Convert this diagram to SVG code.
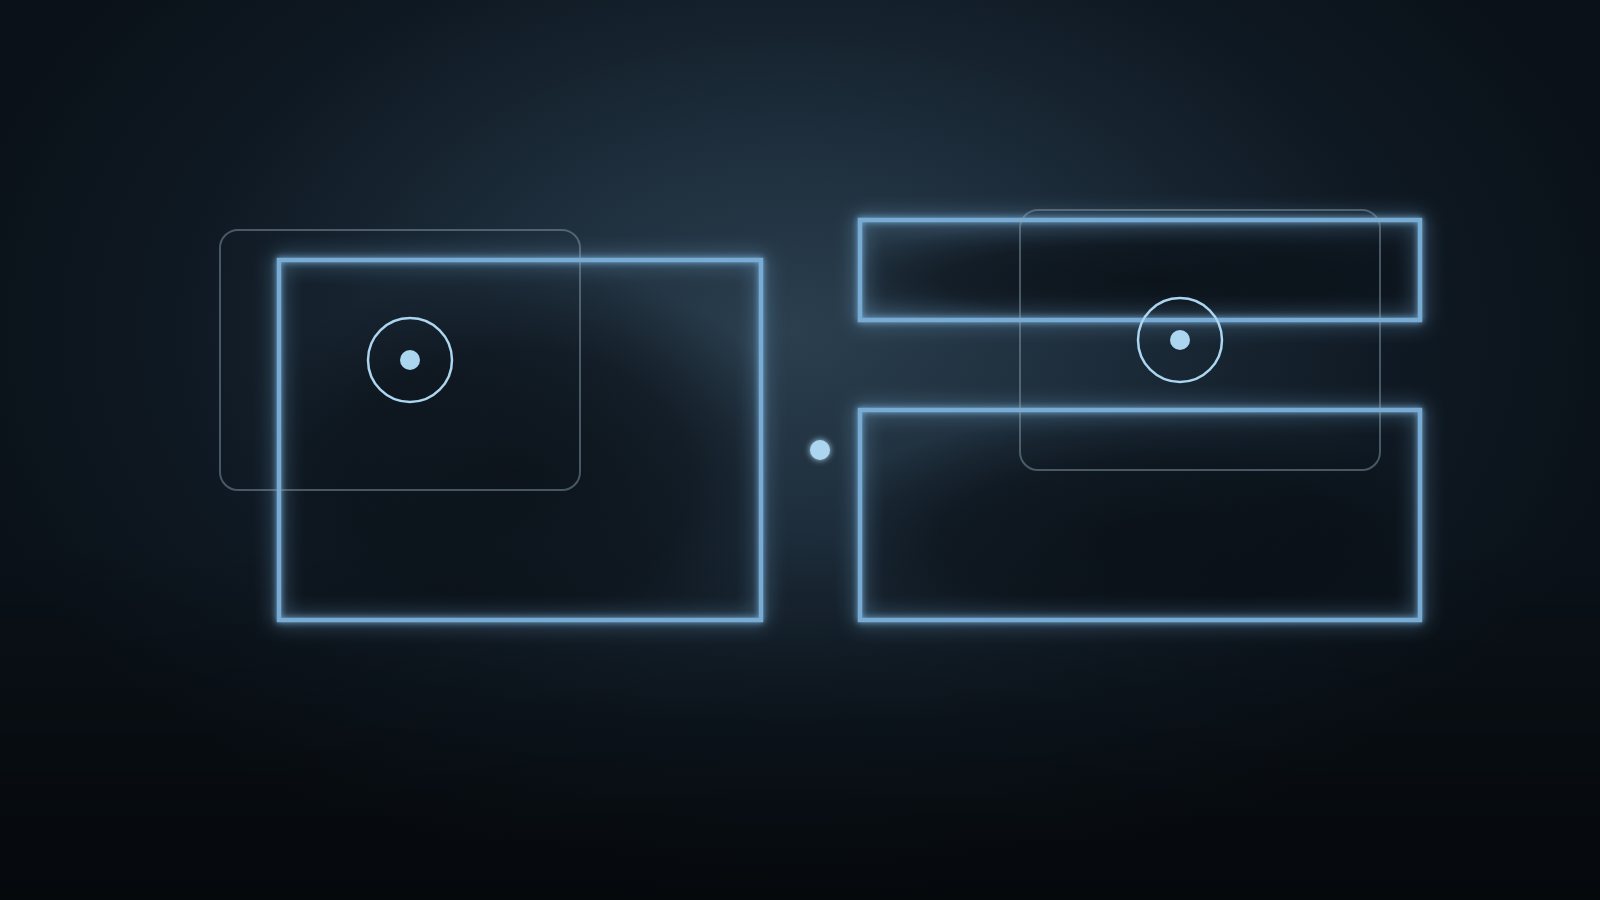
<svg xmlns="http://www.w3.org/2000/svg" width="1600" height="900" viewBox="0 0 1600 900">
<defs>
<radialGradient id="bg" cx="790" cy="330" r="860" gradientUnits="userSpaceOnUse" gradientTransform="translate(790 330) scale(1 0.66) translate(-790 -330)">
<stop offset="0" stop-color="#2b3f4f"/>
<stop offset="0.35" stop-color="#1d2d3b"/>
<stop offset="0.7" stop-color="#0f1923"/>
<stop offset="1" stop-color="#0a1118"/>
</radialGradient>
<linearGradient id="bottom" x1="0" y1="0" x2="0" y2="1">
<stop offset="0.6" stop-color="#000" stop-opacity="0"/>
<stop offset="1" stop-color="#000" stop-opacity="0.5"/>
</linearGradient>
<radialGradient id="shadeGrad" cx="0.5" cy="0.6" r="0.6">
<stop offset="0" stop-color="#070c12" stop-opacity="0.75"/>
<stop offset="0.6" stop-color="#070c12" stop-opacity="0.55"/>
<stop offset="1" stop-color="#070c12" stop-opacity="0"/>
</radialGradient>
<filter id="glow" x="-20%" y="-30%" width="140%" height="160%">
<feGaussianBlur in="SourceGraphic" stdDeviation="10" result="b1"/>
<feGaussianBlur in="SourceGraphic" stdDeviation="3" result="b2"/>
<feMerge><feMergeNode in="b1"/><feMergeNode in="b2"/><feMergeNode in="SourceGraphic"/></feMerge>
</filter>
<filter id="dotglow" x="-100%" y="-100%" width="300%" height="300%">
<feGaussianBlur in="SourceGraphic" stdDeviation="3" result="b"/>
<feMerge><feMergeNode in="b"/><feMergeNode in="SourceGraphic"/></feMerge>
</filter>
</defs>
<style>
.frame{fill:none;stroke:#78acd4;stroke-width:4.5}
.shade{fill:url(#shadeGrad)}
.ghost{fill:none;stroke:#8fa6b8;stroke-opacity:0.45;stroke-width:2}
.ring{fill:none;stroke:#acd6f0;stroke-width:2.5}
.dot{fill:#acd6f0}
</style>
<rect width="1600" height="900" fill="url(#bg)"/>
<rect width="1600" height="900" fill="url(#bottom)"/>

<g id="left-panel">
<rect class="shade" x="281" y="262" width="478" height="356"/>
<rect class="frame" x="279" y="260" width="482" height="360" filter="url(#glow)"/>
</g>

<g id="right-top-panel">
<rect class="shade" x="862" y="222" width="556" height="96"/>
<rect class="frame" x="860" y="220" width="560" height="100" filter="url(#glow)"/>
</g>

<g id="right-bottom-panel">
<rect class="shade" x="862" y="412" width="556" height="206"/>
<rect class="frame" x="860" y="410" width="560" height="210" filter="url(#glow)"/>
</g>

<g id="left-ghost">
<rect class="ghost" x="220" y="230" width="360" height="260" rx="18"/>
</g>

<g id="right-ghost">
<rect class="ghost" x="1020" y="210" width="360" height="260" rx="18"/>
</g>

<g id="left-target">
<circle class="ring" cx="410" cy="360" r="42"/>
<circle class="dot" cx="410" cy="360" r="10"/>
</g>

<g id="right-target">
<circle class="ring" cx="1180" cy="340" r="42"/>
<circle class="dot" cx="1180" cy="340" r="10"/>
</g>

<g id="center-dot">
<circle class="dot" cx="820" cy="450" r="10" filter="url(#dotglow)"/>
</g>

<g id="connectors"></g>
</svg>
